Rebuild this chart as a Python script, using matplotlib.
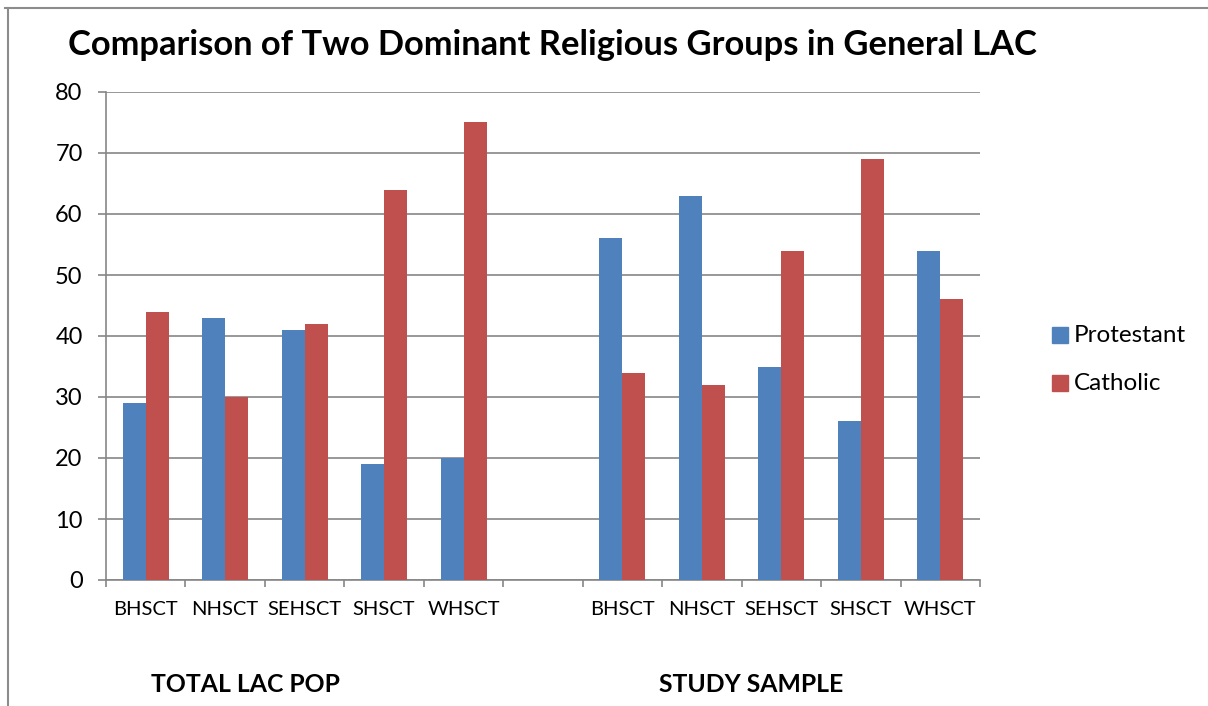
import matplotlib
matplotlib.use("Agg")
import matplotlib.pyplot as plt
from matplotlib.lines import Line2D
from matplotlib.patches import Rectangle
import numpy as np

categories = ["BHSCT", "NHSCT", "SEHSCT", "SHSCT", "WHSCT", "", "BHSCT", "NHSCT", "SEHSCT", "SHSCT", "WHSCT"]
protestant = [29, 43, 41, 19, 20, None, 56, 63, 35, 26, 54]
catholic = [44, 30, 42, 64, 75, None, 34, 32, 54, 69, 46]
group_labels = ["TOTAL LAC POP", "STUDY SAMPLE"]
series_names = ["Protestant", "Catholic"]
colors = ["#4F81BD", "#C0504D"]
yticks = [0, 10, 20, 30, 40, 50, 60, 70, 80]

FONT = ["Lato", "DejaVu Sans"]
plt.rcParams['font.family'] = FONT

W, H = 1208, 706
fig = plt.figure(figsize=(W / 100, H / 100), dpi=100)
fig.patch.set_facecolor("white")

ax_l, ax_r, ax_t, ax_b = 106, 980, 92, 580
ax = fig.add_axes([ax_l / W, 1 - ax_b / H, (ax_r - ax_l) / W, (ax_b - ax_t) / H])

n = len(categories)
x = np.arange(n)
bw = 0.29
p_vals = [np.nan if v is None else v for v in protestant]
c_vals = [np.nan if v is None else v for v in catholic]
ax.bar(x - bw / 2, p_vals, width=bw, color=colors[0], label=series_names[0], zorder=3)
ax.bar(x + bw / 2, c_vals, width=bw, color=colors[1], label=series_names[1], zorder=3)

ax.set_xlim(-0.5, n - 0.5)
ax.set_ylim(0, 80)
ax.set_yticks(yticks)
ax.yaxis.grid(True, color="#868686", linewidth=1.2, zorder=0)
ax.set_axisbelow(True)
for s in ["top", "right"]:
    ax.spines[s].set_visible(False)
for s in ["left", "bottom"]:
    ax.spines[s].set_color("#868686")
    ax.spines[s].set_linewidth(1.2)

ax.set_xticks(np.arange(n + 1) - 0.5)
ax.set_xticklabels([])
ax.set_xticks(x, minor=True)
ax.set_xticklabels(categories, minor=True)
ax.tick_params(axis="x", which="major", length=5, width=1.2, color="#868686", direction="out")
ax.tick_params(axis="x", which="minor", length=0, pad=15, labelsize=14.5)
ax.tick_params(axis="y", length=5.8, width=1.2, color="#868686", labelsize=17, pad=11)

fig.text(68 / W, 1 - 45 / H, "Comparison of Two Dominant Religious Groups in General LAC",
         fontsize=24.8, fontweight="bold", ha="left", va="center")

fig.text(245 / W, 1 - 685 / H, group_labels[0], fontsize=17.8, fontweight="bold", ha="center", va="center")
fig.text(751 / W, 1 - 685 / H, group_labels[1], fontsize=17.8, fontweight="bold", ha="center", va="center")

# legend
for i, (name, col) in enumerate(zip(series_names, colors)):
    yc = 335 + i * 48
    fig.add_artist(Rectangle((1052 / W, 1 - (yc + 8) / H), 16 / W, 16 / H,
                             transform=fig.transFigure, color=col))
    fig.text(1074 / W, 1 - yc / H, name, fontsize=17.5, ha="left", va="center")

# outer border (top and left)
fig.add_artist(Line2D([5 / W, 1], [1 - 8 / H, 1 - 8 / H], transform=fig.transFigure, color="#8C8C8C", linewidth=1.5))
fig.add_artist(Line2D([8 / W, 8 / W], [0, 1 - 8 / H], transform=fig.transFigure, color="#8C8C8C", linewidth=1.5))

fig.savefig("out.png", dpi=100)
